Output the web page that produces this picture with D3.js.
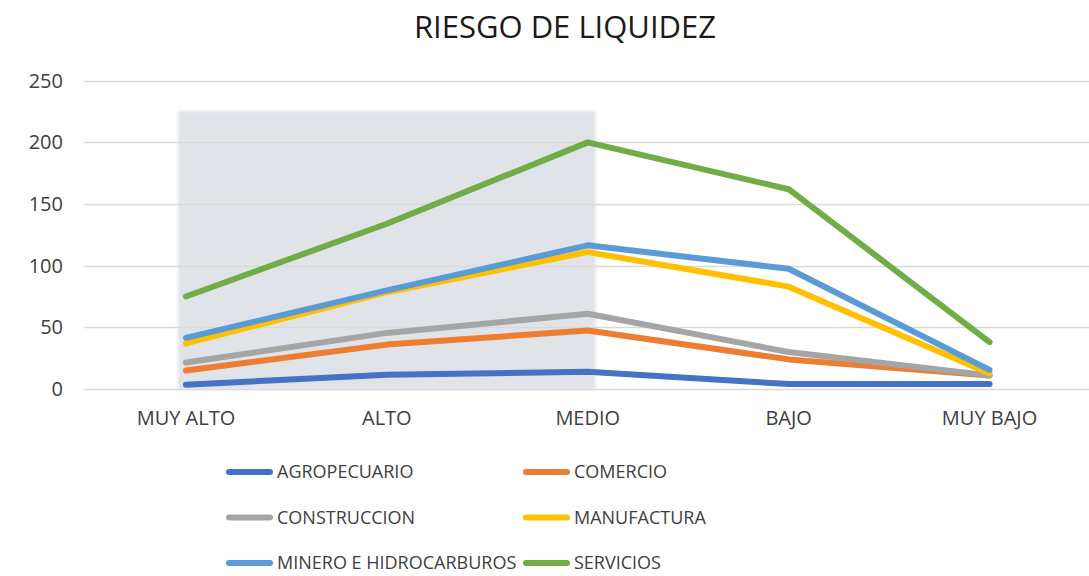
<!DOCTYPE html>
<html>
<head>
<meta charset="utf-8">
<script src="https://cdn.jsdelivr.net/npm/d3@7"></script>
<style>
  body { margin: 0; background: #fff; }
  text { font-family: "Open Sans", "DejaVu Sans", sans-serif; }
</style>
</head>
<body>
<script>
// data
var categories = ['MUY ALTO', 'ALTO', 'MEDIO', 'BAJO', 'MUY BAJO'];
var seriesNames = ['AGROPECUARIO', 'COMERCIO', 'CONSTRUCCION', 'MANUFACTURA', 'MINERO E HIDROCARBUROS', 'SERVICIOS'];
var agropecuario = [3.5, 11.5, 14, 4, 4];
var comercio = [15, 36, 47.5, 24, 11];
var construccion = [21.5, 45.5, 61, 30, 11];
var manufactura = [37, 78.5, 111, 83, 12.5];
var minero = [41.5, 80, 116.5, 97.5, 15.5];
var servicios = [75, 134, 200, 162, 38];
var yTicks = [0, 50, 100, 150, 200, 250];
var colors = ['#4472c4', '#ed7d31', '#a5a5a5', '#ffc000', '#5b9bd5', '#70ad47'];
var shaded = ['MUY ALTO', 'MEDIO'];

var allSeries = [agropecuario, comercio, construccion, manufactura, minero, servicios];

// layout
var width = 1089, height = 576,
    plotLeft = 85.5, plotRight = 1090, plotTop = 81, plotBottom = 389;

var svg = d3.select('body').append('svg')
    .attr('width', width)
    .attr('height', height);

var x = d3.scaleBand().domain(categories).range([plotLeft, plotRight]);
var y = d3.scaleLinear().domain([0, 250]).range([plotBottom, plotTop - 0.3]);

// soft grey band behind the first three categories
var defs = svg.append('defs');
defs.append('filter').attr('id', 'blur')
  .append('feGaussianBlur').attr('stdDeviation', 1.5);
var x0 = x(shaded[0]) + x.bandwidth() / 2 - 8,
    x1 = x(shaded[1]) + x.bandwidth() / 2 + 8;
svg.append('rect')
    .attr('x', x0)
    .attr('y', y(225) - 0.5)
    .attr('width', x1 - x0)
    .attr('height', y(0) - y(225) + 1)
    .attr('fill', '#e0e3e8')
    .attr('filter', 'url(#blur)');

// gridlines
svg.append('g').selectAll('line')
    .data(yTicks)
  .enter().append('line')
    .attr('x1', plotLeft - 1)
    .attr('x2', width)
    .attr('y1', function(d) { return Math.round(y(d)) + 0.5; })
    .attr('y2', function(d) { return Math.round(y(d)) + 0.5; })
    .attr('stroke', '#d9d9d9')
    .attr('stroke-width', 1.5);

// y axis labels
var yAxis = d3.axisLeft(y).tickValues(yTicks).tickSize(0).tickPadding(0);
var gy = svg.append('g')
    .attr('transform', 'translate(63,0)')
    .call(yAxis);
gy.select('.domain').remove();
gy.selectAll('text')
    .attr('font-size', 20)
    .attr('fill', '#404040')
    .style('font-family', '"Open Sans", sans-serif');

// x axis labels
var xAxis = d3.axisBottom(x).tickSize(0).tickPadding(0);
var gx = svg.append('g')
    .attr('transform', 'translate(0,' + (plotBottom + 22) + ')')
    .call(xAxis);
gx.select('.domain').remove();
gx.selectAll('text')
    .attr('font-size', 20)
    .attr('fill', '#404040')
    .style('font-family', '"Open Sans", sans-serif');

// lines
var line = d3.line()
    .x(function(d, i) { return x(categories[i]) + x.bandwidth() / 2; })
    .y(function(d) { return y(d); });

svg.append('g').selectAll('path')
    .data(allSeries)
  .enter().append('path')
    .attr('d', line)
    .attr('fill', 'none')
    .attr('stroke', function(d, i) { return colors[i]; })
    .attr('stroke-width', 6)
    .attr('stroke-linecap', 'round')
    .attr('stroke-linejoin', 'round');

// title
svg.append('text')
    .attr('x', 565)
    .attr('y', 38)
    .attr('text-anchor', 'middle')
    .attr('font-size', 31)
    .attr('fill', '#1a1a1a')
    .text('RIESGO DE LIQUIDEZ');

// legend, two columns
var legend = svg.append('g').selectAll('g')
    .data(seriesNames)
  .enter().append('g')
    .attr('transform', function(d, i) {
      return 'translate(' + (i % 2 ? 526 : 229) + ',' + (472 + Math.floor(i / 2) * 45.5) + ')';
    });
legend.append('line')
    .attr('x1', 0).attr('x2', 41)
    .attr('stroke', function(d, i) { return colors[i]; })
    .attr('stroke-width', 6)
    .attr('stroke-linecap', 'round');
legend.append('text')
    .attr('x', 48)
    .attr('dy', '0.35em')
    .attr('font-size', 18)
    .attr('fill', '#404040')
    .text(function(d) { return d; });
</script>
</body>
</html>
